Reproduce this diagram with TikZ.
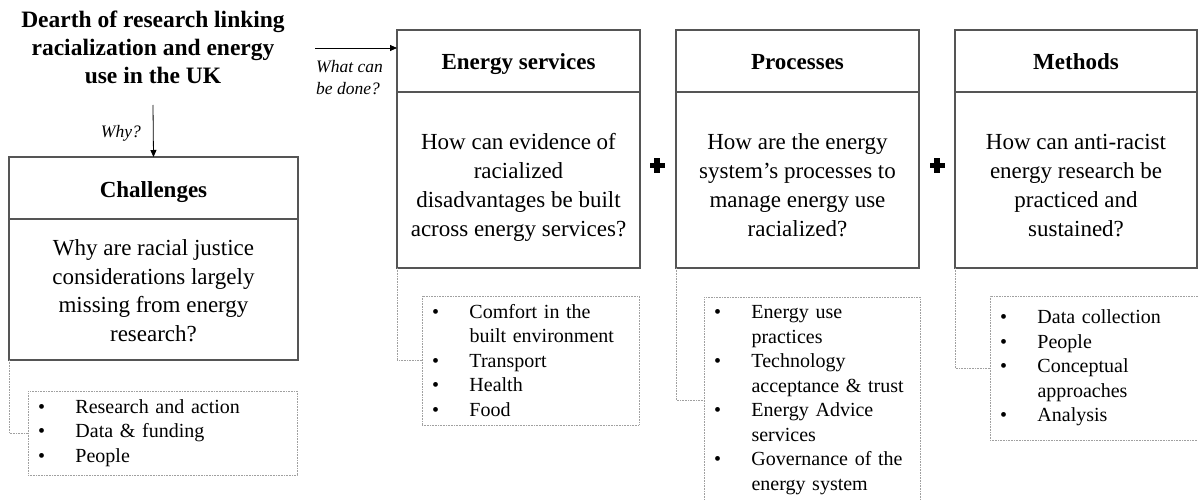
\documentclass[tikz,border=0pt]{standalone}
\usepackage{fontspec}
\setmainfont{Liberation Serif}
\usetikzlibrary{arrows.meta}
\definecolor{boxline}{HTML}{555555}
\definecolor{dotline}{HTML}{A0A0A0}
\tikzset{
  head/.style={draw=boxline, line width=1.1pt, minimum height=62pt, text height=18pt, text depth=0pt, inner sep=0pt, outer sep=0pt, anchor=north west, font=\fontsize{23}{28}\selectfont\bfseries},
  body/.style={draw=boxline, line width=1.1pt, inner sep=0pt, outer sep=0pt, anchor=north west},
  question/.style={align=center, anchor=base, font=\fontsize{23}{29}\selectfont, inner sep=0pt},
  listbox/.style={draw=dotline, line width=0.8pt, dash pattern=on 0.8pt off 0.8pt, anchor=north west, align=left, inner xsep=10pt, inner ysep=0pt, font=\fontsize{20}{24.5}\selectfont, outer sep=0pt},
  link/.style={draw=dotline, line width=0.8pt, dash pattern=on 0.8pt off 0.8pt},
  arr/.style={draw=black, line width=0.8pt, -{Triangle[length=7pt,width=6pt]}},
  cue/.style={font=\fontsize{17.5}{22}\selectfont\itshape, inner sep=0pt, align=left},
  titletext/.style={font=\fontsize{23.5}{28}\selectfont\bfseries, align=center, inner sep=0pt, anchor=base},
}
\newcommand{\bul}{\makebox[37.5pt][l]{\textbullet}}
\newcommand{\ind}{\hspace*{37.5pt}}
\begin{document}
\begin{tikzpicture}[x=1pt,y=-1pt]
\useasboundingbox (0,0) rectangle (1198,500);
\clip (0,0) rectangle (1198,500);

% title (anchor base = last line baseline)
\node[titletext] (title) at (153,84) {Dearth of research linking\\racialization and energy\\use in the UK};

% Challenges
\node[head, minimum width=289pt] (chHead) at (9,157) {Challenges};
\node[body, minimum width=289pt, minimum height=141pt] (chBody) at (chHead.south west) {};
\node[question, font=\fontsize{23}{28.5}\selectfont] (chQ) at (153.5,341) {Why are racial justice\\considerations largely\\missing from energy\\research?};
\node[listbox, text width=249pt, minimum height=84pt] (chList) at (28,391) {\bul Research and action\\\bul Data \& funding\\\bul People};
\draw[link] (chBody.south west) |- (chList.west);

% Energy services
\node[head, minimum width=243pt] (esHead) at (397,30) {Energy services};
\node[body, minimum width=243pt, minimum height=176pt] (esBody) at (esHead.south west) {};
\node[question] (esQ) at (518.5,236) {How can evidence of\\racialized\\disadvantages be built\\across energy services?};
\node[listbox, text width=197pt, minimum height=129pt] (esList) at (422,296) {\bul Comfort in the\\\ind built environment\\\bul Transport\\\bul Health\\\bul Food};
\draw[link] (esBody.south west) |- (esList.west);

% Processes
\node[head, minimum width=243pt] (prHead) at (676,30) {Processes};
\node[body, minimum width=243pt, minimum height=176pt] (prBody) at (prHead.south west) {};
\node[question] (prQ) at (797.5,236) {How are the energy\\system’s processes to\\manage energy use\\racialized?};
\node[listbox, text width=196pt, minimum height=206pt] (prList) at (704,297) {\bul Energy use\\\ind practices\\\bul Technology\\\ind acceptance \& trust\\\bul Energy Advice\\\ind services\\\bul Governance of the\\\ind energy system};
\draw[link] (prBody.south west) |- (prList.west);

% Methods
\node[head, minimum width=242pt] (meHead) at (955,30) {Methods};
\node[body, minimum width=242pt, minimum height=176pt] (meBody) at (meHead.south west) {};
\node[question] (meQ) at (1076,236) {How can anti-racist\\energy research be\\practiced and\\sustained?};
\node[listbox, text width=220pt, minimum height=144pt] (meList) at (990,296) {\bul Data collection\\\bul People\\\bul Conceptual\\\ind approaches\\\bul Analysis};
\draw[link] (meBody.south west) |- (meList.west);

% arrows and cues
\coordinate (why0) at (153,105);
\draw[arr] (why0) -- (chHead.north);
\node[cue, anchor=base east] (whyLbl) at (141,137) {Why?};
\coordinate (wc0) at (315,48);
\draw[arr] (wc0) -- (wc0 -| esHead.west);
\node[cue, anchor=base west] (wcLbl) at (316,95) {What can\\be done?};

% plus signs
\fill (657,165.5) +(-7.5,-2.8) rectangle +(7.5,2.8);
\fill (657,165.5) +(-2.8,-7.5) rectangle +(2.8,7.5);
\fill (937,165.5) +(-7.5,-2.8) rectangle +(7.5,2.8);
\fill (937,165.5) +(-2.8,-7.5) rectangle +(2.8,7.5);
\end{tikzpicture}
\end{document}
